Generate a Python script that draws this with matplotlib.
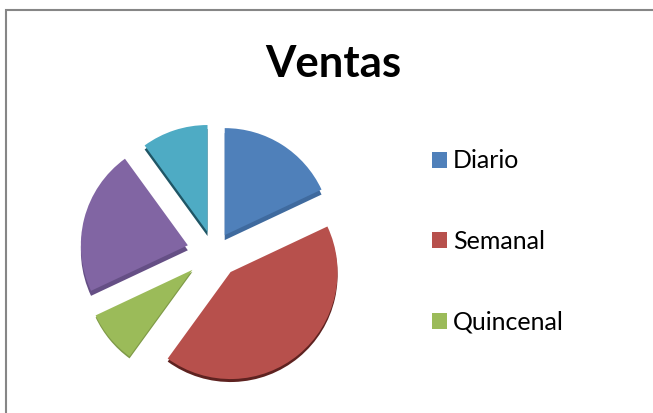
import matplotlib
matplotlib.use("Agg")
import matplotlib.pyplot as plt
from matplotlib.patches import Rectangle

# values, only the first three are named in the legend
values = [18, 42, 8, 22, 10]
legend_labels = ['Diario', 'Semanal', 'Quincenal']

colors = ['#4F80BA', '#B7504C', '#9BBB59', '#8165A3', '#4EABC4']
side_colors = ['#3F6A9E', '#5E2220', '#7F9A48', '#654F85', '#1F5666']
side_depth = [5, 3, 2, 5, 4]

W, H = 653, 413
fig = plt.figure(figsize=(W / 100, H / 100), dpi=100)
ax = fig.add_axes([0, 0, 1, 1])

# chart frame, runs off the right and bottom of the picture
ax.add_patch(Rectangle((6, -10), W + 20, H, fill=False, ec='#868686', lw=1.5))

center = (214, 161)
radius = 107
explode = [20, 26, 28, 27, 21]

# darker copy underneath gives the 3d edge
sides, _ = ax.pie(values, colors=side_colors, explode=explode, center=center, radius=radius,
                  startangle=90, counterclock=False, frame=True)
for w, d in zip(sides, side_depth):
    cx, cy = w.center
    w.set_center((cx, cy - d))

wedges, _ = ax.pie(values, colors=colors, explode=explode, center=center, radius=radius,
                   startangle=90, counterclock=False, frame=True)

ax.set_xlim(0, W)
ax.set_ylim(0, H)
ax.set_aspect('auto')
ax.axis('off')

ax.text(333.5, 349, 'Ventas', ha='center', va='center', fontsize=31.5, fontweight='bold',
        family='Lato', color='black')

leg = ax.legend(wedges[:3], legend_labels, loc='upper left', bbox_to_anchor=(432 / W, 1 - 149.5 / H),
                frameon=False, prop={'family': 'Lato', 'size': 18}, handlelength=0.6, handleheight=0.6,
                handletextpad=0.24, labelspacing=2.30, borderpad=0, borderaxespad=0)

fig.savefig('out.png', dpi=100)
